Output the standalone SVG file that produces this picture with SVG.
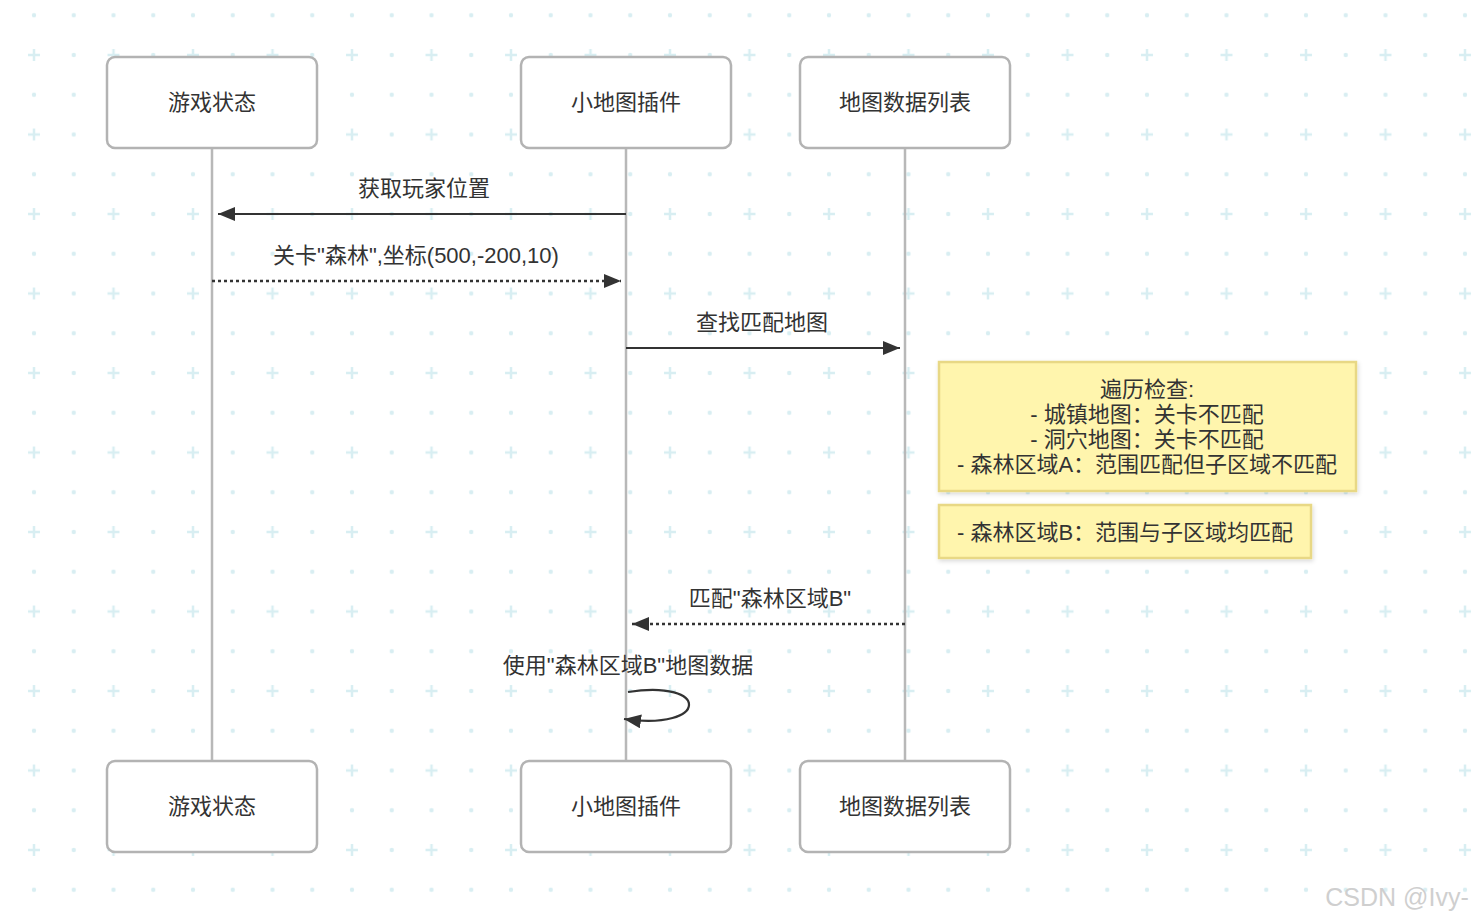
<svg xmlns="http://www.w3.org/2000/svg" width="1478" height="923" viewBox="0 0 1478 923">
<style>
  text { font-family: "Liberation Sans", "Noto Sans CJK SC", sans-serif; fill: #333333; }
  .actor rect { fill: #ffffff; stroke: #b3b3b3; stroke-width: 2.5; }
  .actor text { font-size: 22px; text-anchor: middle; dominant-baseline: central; }
  .life { stroke: #b8b8b8; stroke-width: 2.5; }
  .msg { stroke: #333333; stroke-width: 2.2; fill: none; }
  .dot { stroke-dasharray: 3 3; stroke-width: 2.5; }
  .lbl { font-size: 22px; text-anchor: middle; }
  .note rect { fill: #fff5ad; stroke: #e8d885; stroke-width: 2.5; }
  .note text { font-size: 22px; text-anchor: middle; }
</style>
<defs>
  <pattern id="bg" patternUnits="userSpaceOnUse" x="14.125" y="35.125" width="79.5" height="79.5">
    <path d="M13.875 19.875 H25.875 M19.875 13.875 V25.875" stroke="#d8eef2" stroke-width="2.5"/>
    <circle cx="59.625" cy="19.875" r="2.2" fill="#d8eef2"/>
    <circle cx="19.875" cy="59.625" r="2.2" fill="#d8eef2"/>
    <circle cx="59.625" cy="59.625" r="2.2" fill="#d8eef2"/>
  </pattern>
  <marker id="ah" markerWidth="17" markerHeight="14" refX="17" refY="7" orient="auto" markerUnits="userSpaceOnUse">
    <path d="M0,0 L17,7 L0,14 z" fill="#333333"/>
  </marker>
  <filter id="sh" x="-10%" y="-20%" width="120%" height="140%">
    <feDropShadow dx="1" dy="2" stdDeviation="2" flood-color="#000000" flood-opacity="0.15"/>
  </filter>
</defs>
<rect width="1478" height="923" fill="#ffffff"/>
<rect width="1478" height="923" fill="url(#bg)"/>

<g id="lifelines">
  <line class="life" x1="212" y1="148" x2="212" y2="761"/>
  <line class="life" x1="626" y1="148" x2="626" y2="761"/>
  <line class="life" x1="905" y1="148" x2="905" y2="761"/>
</g>

<g id="actor-game-top" class="actor">
  <rect x="107" y="57" width="210" height="91" rx="8"/>
  <text x="212" y="102.5">游戏状态</text>
</g>
<g id="actor-minimap-top" class="actor">
  <rect x="521" y="57" width="210" height="91" rx="8"/>
  <text x="626" y="102.5">小地图插件</text>
</g>
<g id="actor-maplist-top" class="actor">
  <rect x="800" y="57" width="210" height="91" rx="8"/>
  <text x="905" y="102.5">地图数据列表</text>
</g>
<g id="actor-game-bottom" class="actor">
  <rect x="107" y="761" width="210" height="91" rx="8"/>
  <text x="212" y="806.5">游戏状态</text>
</g>
<g id="actor-minimap-bottom" class="actor">
  <rect x="521" y="761" width="210" height="91" rx="8"/>
  <text x="626" y="806.5">小地图插件</text>
</g>
<g id="actor-maplist-bottom" class="actor">
  <rect x="800" y="761" width="210" height="91" rx="8"/>
  <text x="905" y="806.5">地图数据列表</text>
</g>

<g id="note-1" class="note">
  <rect x="939" y="362" width="417" height="129" filter="url(#sh)"/>
  <text x="1147" y="397">遍历检查:</text>
  <text x="1147" y="422">- 城镇地图：关卡不匹配</text>
  <text x="1147" y="447">- 洞穴地图：关卡不匹配</text>
  <text x="1147" y="472">- 森林区域A：范围匹配但子区域不匹配</text>
</g>
<g id="note-2" class="note">
  <rect x="939" y="505" width="372" height="53" filter="url(#sh)"/>
  <text x="1125" y="540">- 森林区域B：范围与子区域均匹配</text>
</g>

<g id="connectors">
  <line class="msg" x1="626" y1="214" x2="218" y2="214" marker-end="url(#ah)"/>
  <text class="lbl" x="424" y="196">获取玩家位置</text>
  <line class="msg dot" x1="212" y1="281" x2="621" y2="281" marker-end="url(#ah)"/>
  <text class="lbl" x="416" y="263">关卡"森林",坐标(500,-200,10)</text>
  <line class="msg" x1="626" y1="348" x2="900" y2="348" marker-end="url(#ah)"/>
  <text class="lbl" x="762" y="330">查找匹配地图</text>
  <line class="msg dot" x1="905" y1="624" x2="632" y2="624" marker-end="url(#ah)"/>
  <text class="lbl" x="770" y="606">匹配"森林区域B"</text>
  <path class="msg" d="M628,692 C710,679 710,731 624,719" marker-end="url(#ah)"/>
  <text class="lbl" x="628" y="673">使用"森林区域B"地图数据</text>
</g>

<text x="1397" y="906" style="font-size:25px; fill:#cfcfcf; text-anchor:middle; font-family:'Liberation Sans', sans-serif;">CSDN @Ivy-</text>
</svg>
